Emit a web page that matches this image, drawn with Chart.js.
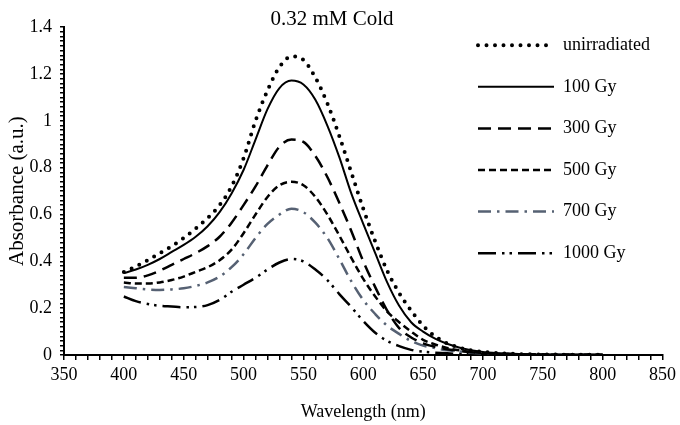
<!DOCTYPE html>
<html lang="en">
<head>
<meta charset="utf-8" />
<title>0.32 mM Cold</title>
<script src="https://cdn.jsdelivr.net/npm/chart.js@4.4.1/dist/chart.umd.min.js"></script>
<style>
  html, body { margin: 0; padding: 0; background: #fff; }
  #wrap { width: 680px; height: 425px; }
</style>
</head>
<body>
<div id="wrap"><canvas id="chart"></canvas></div>
<script>
// wavelength grid (nm)
const wavelengths = [400, 410, 420, 430, 440, 450, 460, 470, 480, 490,
                     500, 510, 520, 530, 540, 550, 560, 570, 580, 590,
                     600, 610, 620, 630, 640, 650, 660, 670, 680, 690,
                     700, 710, 720, 730, 740, 750, 760, 770, 780, 790, 800];

const unirradiated = [0.355, 0.378, 0.405, 0.435, 0.465, 0.50, 0.54, 0.585, 0.64, 0.72,
                      0.84, 1.00, 1.13, 1.23, 1.275, 1.26, 1.185, 1.075, 0.935, 0.78,
                      0.625, 0.485, 0.36, 0.265, 0.19, 0.125, 0.08, 0.05, 0.032, 0.02,
                      0.013, 0.009, 0.006, 0.004, 0.003, 0.002, 0.002, 0.001, 0.001, 0.001, 0.001];
const gy100 = [0.35, 0.365, 0.385, 0.41, 0.44, 0.47, 0.505, 0.55, 0.61, 0.69,
               0.79, 0.92, 1.05, 1.14, 1.172, 1.155, 1.09, 0.98, 0.845, 0.69,
               0.56, 0.435, 0.31, 0.21, 0.14, 0.10, 0.07, 0.048, 0.032, 0.02,
               0.013, 0.009, 0.006, 0.004, 0.003, 0.002, 0.001, 0.001, 0.001, 0.001, 0.001];
const gy300 = [0.33, 0.33, 0.34, 0.36, 0.385, 0.41, 0.435, 0.465, 0.505, 0.565,
               0.64, 0.72, 0.81, 0.89, 0.92, 0.91, 0.85, 0.76, 0.65, 0.53,
               0.40, 0.29, 0.19, 0.115, 0.075, 0.05, 0.035, 0.025, 0.018, 0.012,
               0.008, 0.006, 0.004, 0.003, 0.002, 0.002, 0.001, 0.001, 0.001, 0.001, 0.001];
const gy500 = [0.31, 0.305, 0.305, 0.31, 0.32, 0.335, 0.355, 0.375, 0.405, 0.45,
               0.52, 0.60, 0.675, 0.725, 0.74, 0.725, 0.675, 0.60, 0.51, 0.415,
               0.325, 0.25, 0.185, 0.14, 0.10, 0.065, 0.045, 0.03, 0.02, 0.013,
               0.009, 0.006, 0.004, 0.003, 0.002, 0.002, 0.001, 0.001, 0.001, 0.001, 0.001];
const gy700 = [0.29, 0.285, 0.28, 0.278, 0.28, 0.285, 0.295, 0.31, 0.335, 0.375,
               0.43, 0.50, 0.56, 0.60, 0.625, 0.61, 0.565, 0.50, 0.41, 0.315,
               0.235, 0.175, 0.125, 0.09, 0.06, 0.04, 0.03, 0.02, 0.015, 0.01,
               0.007, 0.005, 0.004, 0.003, 0.002, 0.002, 0.001, 0.001, 0.001, 0.001, 0.001];
const gy1000 = [0.25, 0.23, 0.218, 0.21, 0.207, 0.204, 0.205, 0.213, 0.235, 0.27,
                0.30, 0.33, 0.365, 0.395, 0.41, 0.40, 0.365, 0.32, 0.26, 0.205,
                0.145, 0.095, 0.06, 0.038, 0.022, 0.014, 0.01, 0.007, 0.005, 0.004,
                0.003, 0.002, 0.002, 0.001, 0.001, 0.001, 0.001, 0.001, 0.001, 0.001, 0.001];

const seriesNames = ['unirradiated', '100 Gy', '300 Gy', '500 Gy', '700 Gy', '1000 Gy'];
const seriesValues = [unirradiated, gy100, gy300, gy500, gy700, gy1000];

const serif = '"Liberation Serif", "Times New Roman", serif';

// line looks for each dose
const styles = [
  { color: '#000', width: 4,   dash: [0, 8.5], cap: 'round' },
  { color: '#000', width: 2,   dash: [],       cap: 'butt' },
  { color: '#000', width: 2.5, dash: [13, 7],  cap: 'butt' },
  { color: '#000', width: 2.5, dash: [7, 4],   cap: 'butt' },
  { color: '#566173', width: 2.5, dash: [13, 6, 2.5, 6], cap: 'butt' },
  { color: '#000', width: 2.5, dash: [18, 6, 2.5, 5, 2.5, 6], cap: 'butt' }
];

const datasets = seriesNames.map((name, i) => ({
  label: name,
  data: wavelengths.map((w, j) => ({ x: w, y: seriesValues[i][j] })),
  borderColor: styles[i].color,
  borderWidth: styles[i].width,
  borderDash: styles[i].dash,
  borderCapStyle: styles[i].cap,
  pointRadius: 0,
  fill: false,
  cubicInterpolationMode: 'monotone'
}));

// legend drawn inside the plot on the right, like the original figure
const sideLegend = {
  id: 'sideLegend',
  afterDraw(chart) {
    const ctx = chart.ctx;
    const area = chart.chartArea;
    const x0 = area.left + 414, x1 = area.left + 490;
    ctx.save();
    chart.data.datasets.forEach((ds, i) => {
      const y = area.top + 18 + i * 41.6;
      ctx.beginPath();
      ctx.setLineDash(ds.borderDash);
      ctx.lineCap = ds.borderCapStyle;
      ctx.lineWidth = ds.borderWidth;
      ctx.strokeStyle = ds.borderColor;
      ctx.moveTo(x0, y);
      ctx.lineTo(x1, y);
      ctx.stroke();
      ctx.setLineDash([]);
      ctx.fillStyle = '#000';
      ctx.font = '18px ' + serif;
      ctx.textBaseline = 'middle';
      ctx.textAlign = 'left';
      ctx.fillText(ds.label, x1 + 9, y);
    });
    ctx.restore();
  }
};

const isMultiple = (v, step) => Math.abs(Math.round(v / step) * step - v) < 1e-6;

new Chart(document.getElementById('chart'), {
  type: 'line',
  data: { datasets: datasets },
  plugins: [sideLegend],
  options: {
    responsive: true,
    maintainAspectRatio: false,
    animation: false,
    layout: { padding: { left: 0, right: 16, top: 0, bottom: 0 } },
    plugins: {
      legend: { display: false },
      tooltip: { enabled: false },
      title: {
        display: true,
        text: '0.32 mM Cold',
        color: '#000',
        font: { family: serif, size: 21, weight: 'normal' },
        padding: { top: 7, bottom: -5 }
      }
    },
    scales: {
      x: {
        type: 'linear',
        min: 350,
        max: 850,
        afterFit: (scale) => { scale.height = 70; },
        border: { color: '#000', width: 2 },
        grid: { drawOnChartArea: false, color: '#000', lineWidth: 1.5, tickLength: 5 },
        ticks: {
          stepSize: 10,
          autoSkip: false,
          maxRotation: 0,
          color: '#000',
          padding: 4,
          font: { family: serif, size: 18 },
          callback: (v) => isMultiple(v, 50) ? String(v) : ''
        },
        title: {
          display: true,
          text: 'Wavelength (nm)',
          color: '#000',
          font: { family: serif, size: 18 },
          padding: { top: 0, bottom: 2 }
        }
      },
      y: {
        min: 0,
        max: 1.4,
        afterFit: (scale) => { scale.width = 64; },
        border: { color: '#000', width: 2 },
        grid: { drawOnChartArea: false, color: '#000', lineWidth: 1.5, tickLength: 4 },
        ticks: {
          stepSize: 0.02,
          autoSkip: false,
          color: '#000',
          padding: 8,
          font: { family: serif, size: 18 },
          callback: (v) => isMultiple(v, 0.2) ? String(Number(v.toFixed(1))) : ''
        },
        title: {
          display: true,
          text: 'Absorbance (a.u.)',
          color: '#000',
          font: { family: serif, size: 21 },
          padding: { top: 5, bottom: 0 }
        }
      }
    }
  }
});
</script>
</body>
</html>
